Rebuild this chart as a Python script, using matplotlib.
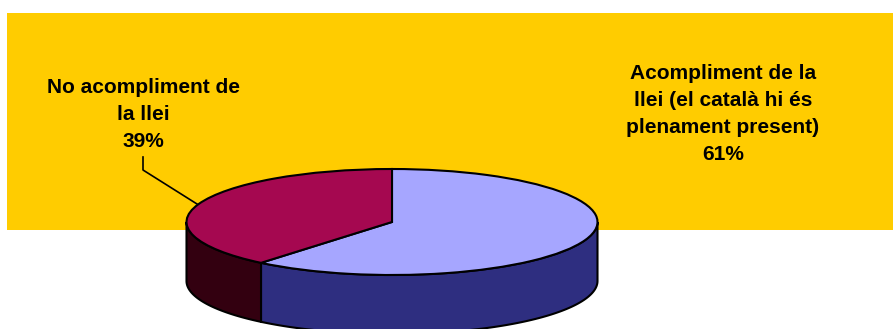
import numpy as np
import matplotlib
matplotlib.use("Agg")
import matplotlib.pyplot as plt
from matplotlib.patches import Rectangle

# values of the pie
labels = ["Acompliment de la\nllei (el català hi és\nplenament present)\n61%",
          "No acompliment de\nla llei\n39%"]
values = [61, 39]
top_colors = ["#A6A6FF", "#A50850"]
wall_colors = ["#2E2E80", "#330010"]

W, H = 893, 329
plt.rcParams['font.family'] = ['Liberation Sans', 'DejaVu Sans']

fig = plt.figure(figsize=(W / 100, H / 100), dpi=100, facecolor="white")
# yellow background, only the upper part
fig.add_artist(Rectangle((7 / W, 1 - 230 / H), 886 / W, 217 / H, transform=fig.transFigure,
                         facecolor="#FFCC00", edgecolor="none", zorder=-5))

ax = fig.add_axes([0, 0, 1, 1])
ax.patch.set_alpha(0)

# top of the pie
ax.pie(values, colors=top_colors, startangle=90, counterclock=False,
       wedgeprops={"edgecolor": "black", "linewidth": 1.5, "zorder": 3})

# pixels -> pie units, radius 1 is 205.5 px wide and 53 px high
cx, cy, rx, ry = 392, 222, 205.5, 53
ax.set_aspect("auto")
ax.set_xlim((0 - cx) / rx, (W - cx) / rx)
ax.set_ylim((cy - H) / ry, cy / ry)
ax.axis("off")
depth = 59 / ry

# side walls, only the part of each slice facing the front
ends = np.cumsum(values) / np.sum(values) * 360
starts = np.r_[0, ends[:-1]]
for a0, a1, col in zip(starts, ends, wall_colors):
    lo, hi = max(a0, 90), min(a1, 270)
    t = np.radians(90 - np.linspace(lo, hi, 100))
    x = np.cos(t)
    y = np.sin(t)
    ax.fill(np.r_[x, x[::-1]], np.r_[y, y[::-1] - depth], facecolor=col,
            edgecolor="black", linewidth=1.5, zorder=2)

# leader line of the small slice
ax.plot((np.array([143, 143, 197]) - cx) / rx, (cy - np.array([157, 170, 204])) / ry,
        color="black", linewidth=1.2, zorder=1)

fig.text(723 / W, 1 - 114 / H, labels[0], ha="center", va="center", fontsize=15,
         fontweight="bold", color="black", linespacing=1.54)
fig.text(143.5 / W, 1 - 114.5 / H, labels[1], ha="center", va="center", fontsize=15,
         fontweight="bold", color="black", linespacing=1.54)

fig.savefig("out.png", dpi=100)
